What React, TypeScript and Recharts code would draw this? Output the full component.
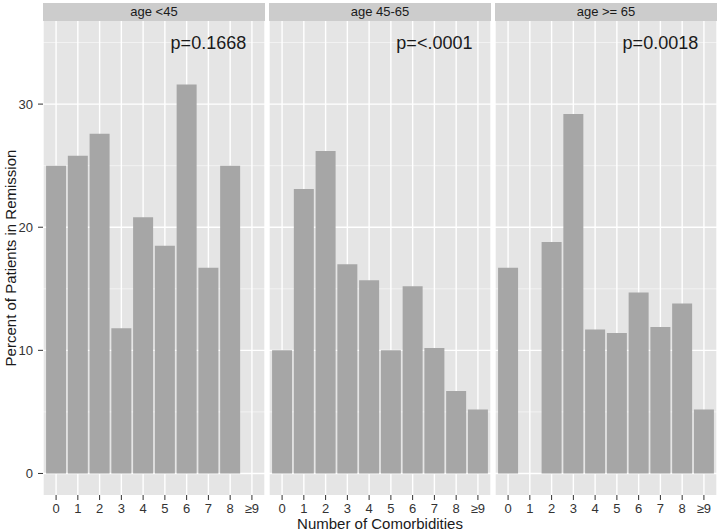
import { Bar, BarChart, CartesianGrid, ReferenceDot, XAxis, YAxis } from "recharts"

const COMORBIDITIES = ["0", "1", "2", "3", "4", "5", "6", "7", "8", "≥9"]

// percent in remission per comorbidity count, one array per age facet
const AGE_LT_45 = [25.0, 25.8, 27.6, 11.8, 20.8, 18.5, 31.6, 16.7, 25.0, 0]
const AGE_45_65 = [10.0, 23.1, 26.2, 17.0, 15.7, 10.0, 15.2, 10.2, 6.7, 5.2]
const AGE_GE_65 = [16.7, 0, 18.8, 29.2, 11.7, 11.4, 14.7, 11.9, 13.8, 5.2]

const FACET_LABELS = ["age <45", "age 45-65", "age >= 65"]
const P_VALUES = ["p=0.1668", "p=<.0001", "p=0.0018"]
const FACET_VALUES = [AGE_LT_45, AGE_45_65, AGE_GE_65]

const Y_TICKS = [0, 10, 20, 30]
const Y_MINOR = [5, 15, 25, 35]
const Y_DOMAIN: [number, number] = [-1.75, 36.75]
const P_LABEL_AT = { x: "7", y: 35 }

const PANEL_W = 222
const PANEL_LEFT = [43, 269, 495]
const AXIS_W = 43
const CHART_H = 525
const FONT = "'Liberation Sans', Arial, sans-serif"

function Facet({ index }: { index: number }) {
  const rows = COMORBIDITIES.map((n, i) => ({ n, pct: FACET_VALUES[index][i] }))
  const withAxis = index === 0
  const left = withAxis ? 0 : PANEL_LEFT[index]
  const width = withAxis ? AXIS_W + PANEL_W : PANEL_W

  return (
    <>
      <div
        style={{
          position: "absolute",
          left: PANEL_LEFT[index],
          top: 3,
          width: PANEL_W,
          height: 18,
          lineHeight: "18px",
          background: "#cccccc",
          color: "#1a1a1a",
          fontSize: 13,
          textAlign: "center",
        }}
      >
        {FACET_LABELS[index]}
      </div>
      <div style={{ position: "absolute", left, top: 0 }}>
        <BarChart
          width={width}
          height={CHART_H}
          data={rows}
          margin={{ top: 21, right: 0, left: 0, bottom: 0 }}
          barCategoryGap="4%"
        >
          <CartesianGrid
            fill="#e5e5e5"
            vertical={false}
            horizontalValues={Y_MINOR}
            stroke="#f2f2f2"
            strokeWidth={1}
          />
          <CartesianGrid
            horizontalValues={Y_TICKS}
            stroke="#ffffff"
            strokeWidth={1.4}
          />
          <XAxis
            dataKey="n"
            interval={0}
            height={30}
            padding={{ left: 2.2, right: 2.2 }}
            axisLine={false}
            tickSize={5}
            tickMargin={4}
            tickLine={{ stroke: "#333333" }}
            tick={{ fontSize: 13, fill: "#333333" }}
          />
          <YAxis
            hide={!withAxis}
            width={AXIS_W}
            domain={Y_DOMAIN}
            allowDataOverflow
            ticks={Y_TICKS}
            axisLine={false}
            tickSize={5}
            tickMargin={5}
            tickLine={{ stroke: "#333333" }}
            tick={{ fontSize: 13, fill: "#333333" }}
          />
          <Bar dataKey="pct" fill="#a6a6a6" isAnimationActive={false} />
          <ReferenceDot
            x={P_LABEL_AT.x}
            y={P_LABEL_AT.y}
            r={0}
            fill="none"
            stroke="none"
            label={{ value: P_VALUES[index], position: "center", fontSize: 18, fill: "#1a1a1a" }}
          />
        </BarChart>
      </div>
    </>
  )
}

export default function App() {
  return (
    <div
      style={{
        position: "absolute",
        left: 0,
        top: 0,
        width: 720,
        height: 532,
        background: "#ffffff",
        fontFamily: FONT,
        overflow: "hidden",
      }}
    >
      {[0, 1, 2].map((i) => (
        <Facet key={i} index={i} />
      ))}
      <div
        style={{
          position: "absolute",
          left: 9.5,
          top: 258,
          transform: "translate(-50%, -50%) rotate(-90deg)",
          whiteSpace: "nowrap",
          fontSize: 15,
          lineHeight: "15px",
          color: "#1a1a1a",
        }}
      >
        Percent of Patients in Remission
      </div>
      <div
        style={{
          position: "absolute",
          left: 0,
          width: 760,
          top: 516,
          textAlign: "center",
          fontSize: 15,
          lineHeight: "15px",
          color: "#1a1a1a",
        }}
      >
        Number of Comorbidities
      </div>
    </div>
  )
}
